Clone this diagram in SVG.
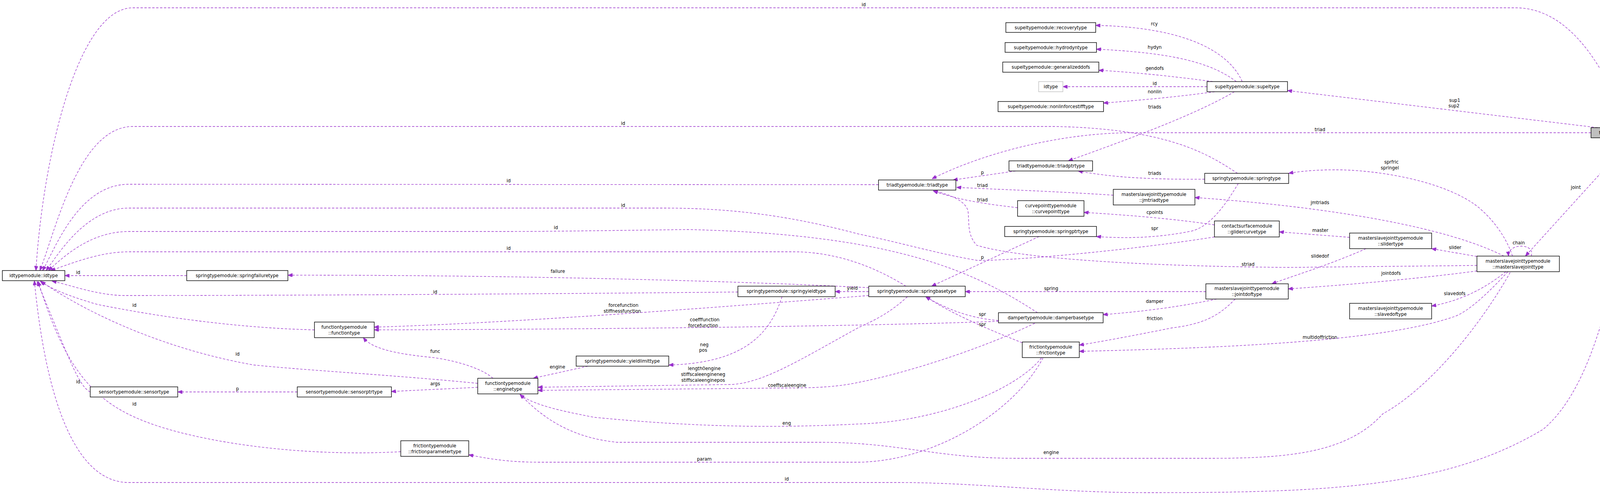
<svg xmlns="http://www.w3.org/2000/svg" width="4281" height="1268" viewBox="0 0 4281 1268">
<style>
.n rect{fill:#fff;stroke:#000;stroke-width:1.4}
.n.g rect{stroke:#bfbfbf}
.n.f rect{fill:#bfbfbf}
text{font-family:"DejaVu Sans","Liberation Sans",sans-serif;font-size:11.6px;text-anchor:middle;fill:#000}
#edges path{fill:none;stroke:#9a32cd;stroke-width:1.3;stroke-dasharray:6,4;marker-end:url(#a)}
</style>
<defs><marker id="a" viewBox="0 0 10 8" refX="10" refY="4" markerWidth="12" markerHeight="9" markerUnits="userSpaceOnUse" orient="auto"><path d="M0,0L10,4L0,8z" fill="#9a32cd" stroke="#9a32cd"/></marker></defs>
<rect width="4281" height="1268" fill="#fff"/>
<g id="edges">
<path d="M4166,327C4120,200 4030,20 3880,20L340,20C200,20 110,400 92,693"/>
<path d="M4090,327L3296,232"/>
<path d="M4073,340L2900,340C2700,340 2500,400 2386,458"/>
<path d="M4180,353L3905,656"/>
<path d="M4190,353C4140,750 4070,1000 3950,1100C3700,1250 3400,1262 2937,1262C2700,1262 2500,1236 2300,1236L330,1236C170,1236 110,950 88,719"/>
<path d="M3920,656C3932,622 3858,622 3862,656"/>
<path d="M3872,656C3850,590 3800,540 3770,520C3680,460 3520,435 3420,435C3360,435 3320,440 3299,444"/>
<path d="M3850,656C3700,580 3400,530 3059,506"/>
<path d="M3781,657L3665,637"/>
<path d="M3781,680L3300,685C2900,682 2600,660 2500,628C2475,600 2482,570 2478,540C2470,510 2420,495 2389,489"/>
<path d="M3781,694C3650,712 3450,730 3298,740"/>
<path d="M3855,696C3800,740 3740,770 3665,784"/>
<path d="M3860,696C3820,740 3760,800 3720,812C3550,870 3200,890 2763,900"/>
<path d="M3866,698C3780,850 3650,1000 3540,1060C3450,1160 3300,1174 3100,1174L2600,1174C2400,1174 2300,1133 2100,1133L1580,1133C1450,1120 1380,1060 1331,1010"/>
<path d="M3455,608L3275,594"/>
<path d="M3497,637C3400,680 3300,710 3256,727"/>
<path d="M3168,444C3100,400 3000,330 2700,324L340,324C200,324 140,600 102,693"/>
<path d="M2249,473L330,472C200,472 140,640 109,693"/>
<path d="M3109,607C2900,640 2600,668 2502,667C2400,650 2300,620 2200,600C2050,560 1900,533 1700,533L330,533C220,533 150,650 118,693"/>
<path d="M2656,801C2500,700 2300,600 1760,588C1600,590 1400,593 1300,593L330,593C230,593 160,660 124,693"/>
<path d="M2319,733C2250,690 2150,645 2030,645L330,645C250,645 170,680 130,693"/>
<path d="M478,706L166,706"/>
<path d="M1889,748C1500,752 800,757 320,757C250,757 180,730 133,720"/>
<path d="M805,845C600,840 400,810 250,780C180,760 130,740 103,720"/>
<path d="M1223,982C1000,960 800,950 650,935C450,900 250,820 105,721"/>
<path d="M231,1004C200,990 170,900 95,721"/>
<path d="M1026,1157C800,1170 550,1140 400,1090C250,1040 170,960 98,721"/>
<path d="M3180,209C3150,140 3050,70 2805,65"/>
<path d="M3165,209C3100,160 3000,135 2807,126"/>
<path d="M3105,209C3000,195 2900,185 2813,180"/>
<path d="M3090,222L2721,222"/>
<path d="M3110,235C3000,250 2900,258 2825,264"/>
<path d="M3160,235C3050,300 2850,370 2735,412"/>
<path d="M2600,438L2440,461"/>
<path d="M3084,459C2950,460 2850,455 2760,438"/>
<path d="M2850,500C2700,490 2550,485 2449,480"/>
<path d="M2605,532C2500,520 2450,510 2389,489"/>
<path d="M3109,576C3000,560 2900,552 2775,544"/>
<path d="M3170,470C3140,520 3100,580 3050,592C2950,612 2870,610 2807,606"/>
<path d="M2660,606L2385,733"/>
<path d="M3087,747L2471,747"/>
<path d="M3115,766C3000,790 2900,800 2824,806"/>
<path d="M3162,766C3120,810 3080,830 3000,840C2900,860 2820,875 2763,884"/>
<path d="M2556,821C2480,815 2420,790 2370,760"/>
<path d="M2617,878C2520,840 2430,800 2370,760"/>
<path d="M2224,747L2138,747"/>
<path d="M2224,737C1900,720 1300,704 737,705"/>
<path d="M2224,757C1800,790 1300,828 958,838"/>
<path d="M2556,823C2300,833 1700,843 958,845"/>
<path d="M2002,760C1970,860 1900,930 1712,935"/>
<path d="M1505,938L1365,969"/>
<path d="M2323,760C2280,800 2240,820 2200,838C2050,920 1950,985 1865,985L1377,992"/>
<path d="M2649,828C2500,900 2300,960 2200,979C2150,990 2100,994 2000,994L1377,1000"/>
<path d="M2666,917C2600,1000 2400,1080 2200,1086C2000,1096 1800,1096 1521,1069C1450,1055 1370,1040 1331,1011"/>
<path d="M2670,917C2600,1050 2400,1180 2200,1184L1381,1184C1300,1184 1250,1175 1200,1165"/>
<path d="M1262,969C1230,940 1150,920 1100,915C1000,905 950,890 930,865"/>
<path d="M1223,992C1150,996 1050,1000 1002,1003"/>
<path d="M761,1004L455,1004"/>
</g>
<g id="labels">
<text x="2211" y="16">id</text>
<text x="3724" y="261">sup1</text><text x="3722" y="275">sup2</text>
<text x="3379" y="336">triad</text>
<text x="4034" y="484">joint</text>
<text x="2014" y="1231">id</text>
<text x="3888" y="626">chain</text>
<text x="3562" y="419">sprfric</text><text x="3558" y="434">springel</text>
<text x="3379" y="523">jmtriads</text>
<text x="3725" y="638">slider</text>
<text x="3195" y="681">striad</text>
<text x="3561" y="704">jointdofs</text>
<text x="3724" y="756">slavedofs</text>
<text x="3379" y="868">multidoffriction</text>
<text x="2691" y="1163">engine</text>
<text x="3380" y="594">master</text>
<text x="3379" y="660">slidedof</text>
<text x="1595" y="320">id</text>
<text x="1302" y="467">id</text>
<text x="1595" y="530">id</text>
<text x="1423" y="587">id</text>
<text x="1302" y="640">id</text>
<text x="200" y="702">id</text>
<text x="1114" y="752">id</text>
<text x="344" y="786">id</text>
<text x="608" y="911">id</text>
<text x="200" y="982">id</text>
<text x="344" y="1039">id</text>
<text x="2955" y="65">rcy</text>
<text x="2956" y="125">hydyn</text>
<text x="2956" y="179">gendofs</text>
<text x="2956" y="218">id</text>
<text x="2956" y="239">nonlin</text>
<text x="2956" y="278">triads</text>
<text x="2515" y="446">p</text>
<text x="2956" y="448">triads</text>
<text x="2515" y="479">triad</text>
<text x="2515" y="516">triad</text>
<text x="2956" y="548">cpoints</text>
<text x="2956" y="589">spr</text>
<text x="2515" y="663">p</text>
<text x="2691" y="743">spring</text>
<text x="2956" y="776">damper</text>
<text x="2956" y="820">friction</text>
<text x="2515" y="809">spr</text>
<text x="2515" y="835">spr</text>
<text x="2182" y="742">yield</text>
<text x="1428" y="699">failure</text>
<text x="1596" y="786">forcefunction</text><text x="1593" y="801">stiffnessfunction</text>
<text x="1804" y="823">coefffunction</text><text x="1800" y="838">forcefunction</text>
<text x="1803" y="887">neg</text><text x="1800" y="901">pos</text>
<text x="1427" y="944">engine</text>
<text x="1803" y="948">length0engine</text><text x="1800" y="963">stiffscaleengineneg</text><text x="1800" y="978">stiffscaleenginepos</text>
<text x="2015" y="991">coeffscaleengine</text>
<text x="2014" y="1088">eng</text>
<text x="1803" y="1180">param</text>
<text x="1114" y="904">func</text>
<text x="1114" y="987">args</text>
<text x="608" y="1000">p</text>
</g>
<g id="n_force" class="n f"><rect x="4073" y="327" width="203" height="26"/><text x="4174" y="344">forcetypemodule::forcetype</text></g>
<g id="n_idtype" class="n"><rect x="6" y="693" width="160" height="26"/><text x="86" y="710">idtypemodule::idtype</text></g>
<g id="n_springfailure" class="n"><rect x="478" y="693" width="259" height="26"/><text x="607" y="710">springtypemodule::springfailuretype</text></g>
<g id="n_function" class="n"><rect x="805" y="825" width="153" height="40"/><text x="881" y="842">functiontypemodule</text><text x="881" y="857">::functiontype</text></g>
<g id="n_sensor" class="n"><rect x="231" y="991" width="224" height="26"/><text x="343" y="1008">sensortypemodule::sensortype</text></g>
<g id="n_sensorptr" class="n"><rect x="761" y="991" width="241" height="26"/><text x="881" y="1008">sensortypemodule::sensorptrtype</text></g>
<g id="n_frictionparam" class="n"><rect x="1026" y="1129" width="174" height="40"/><text x="1113" y="1146">frictiontypemodule</text><text x="1113" y="1161">::frictionparametertype</text></g>
<g id="n_springyield" class="n"><rect x="1889" y="733" width="249" height="27"/><text x="2013" y="750">springtypemodule::springyieldtype</text></g>
<g id="n_yieldlimit" class="n"><rect x="1475" y="912" width="237" height="26"/><text x="1593" y="929">springtypemodule::yieldlimittype</text></g>
<g id="n_engine" class="n"><rect x="1223" y="969" width="154" height="40"/><text x="1300" y="986">functiontypemodule</text><text x="1300" y="1001">::enginetype</text></g>
<g id="n_recovery" class="n"><rect x="2575" y="58" width="230" height="25"/><text x="2690" y="75">supeltypemodule::recoverytype</text></g>
<g id="n_hydrodyn" class="n"><rect x="2573" y="109" width="234" height="25"/><text x="2690" y="126">supeltypemodule::hydrodyntype</text></g>
<g id="n_gendofs" class="n"><rect x="2567" y="159" width="246" height="26"/><text x="2690" y="176">supeltypemodule::generalizeddofs</text></g>
<g id="n_idtype2" class="n g"><rect x="2659" y="209" width="62" height="26"/><text x="2690" y="226">idtype</text></g>
<g id="n_nonlin" class="n"><rect x="2555" y="260" width="270" height="26"/><text x="2690" y="277">supeltypemodule::nonlinforcestifftype</text></g>
<g id="n_supel" class="n"><rect x="3090" y="209" width="206" height="26"/><text x="3193" y="226">supeltypemodule::supeltype</text></g>
<g id="n_triadptr" class="n"><rect x="2583" y="412" width="214" height="26"/><text x="2690" y="429">triadtypemodule::triadptrtype</text></g>
<g id="n_triad" class="n"><rect x="2249" y="461" width="198" height="26"/><text x="2348" y="478">triadtypemodule::triadtype</text></g>
<g id="n_spring" class="n"><rect x="3084" y="444" width="215" height="26"/><text x="3191" y="461">springtypemodule::springtype</text></g>
<g id="n_jmtriad" class="n"><rect x="2850" y="485" width="209" height="40"/><text x="2954" y="502">masterslavejointtypemodule</text><text x="2954" y="517">::jmtriadtype</text></g>
<g id="n_curvepoint" class="n"><rect x="2605" y="514" width="170" height="40"/><text x="2690" y="531">curvepointtypemodule</text><text x="2690" y="546">::curvepointtype</text></g>
<g id="n_springptr" class="n"><rect x="2572" y="580" width="235" height="26"/><text x="2690" y="597">springtypemodule::springptrtype</text></g>
<g id="n_glider" class="n"><rect x="3109" y="566" width="166" height="41"/><text x="3192" y="583">contactsurfacemodule</text><text x="3192" y="598">::glidercurvetype</text></g>
<g id="n_springbase" class="n"><rect x="2224" y="733" width="247" height="27"/><text x="2347" y="750">springtypemodule::springbasetype</text></g>
<g id="n_damperbase" class="n"><rect x="2556" y="801" width="268" height="26"/><text x="2690" y="818">dampertypemodule::damperbasetype</text></g>
<g id="n_jointdof" class="n"><rect x="3087" y="727" width="211" height="39"/><text x="3192" y="743">masterslavejointtypemodule</text><text x="3192" y="758">::jointdoftype</text></g>
<g id="n_friction" class="n"><rect x="2617" y="876" width="146" height="40"/><text x="2690" y="893">frictiontypemodule</text><text x="2690" y="908">::frictiontype</text></g>
<g id="n_slider" class="n"><rect x="3455" y="597" width="210" height="40"/><text x="3560" y="614">masterslavejointtypemodule</text><text x="3560" y="629">::slidertype</text></g>
<g id="n_msj" class="n"><rect x="3781" y="656" width="211" height="40"/><text x="3886" y="673">masterslavejointtypemodule</text><text x="3886" y="688">::masterslavejointtype</text></g>
<g id="n_slavedof" class="n"><rect x="3455" y="777" width="210" height="40"/><text x="3560" y="794">masterslavejointtypemodule</text><text x="3560" y="809">::slavedoftype</text></g>
</svg>
